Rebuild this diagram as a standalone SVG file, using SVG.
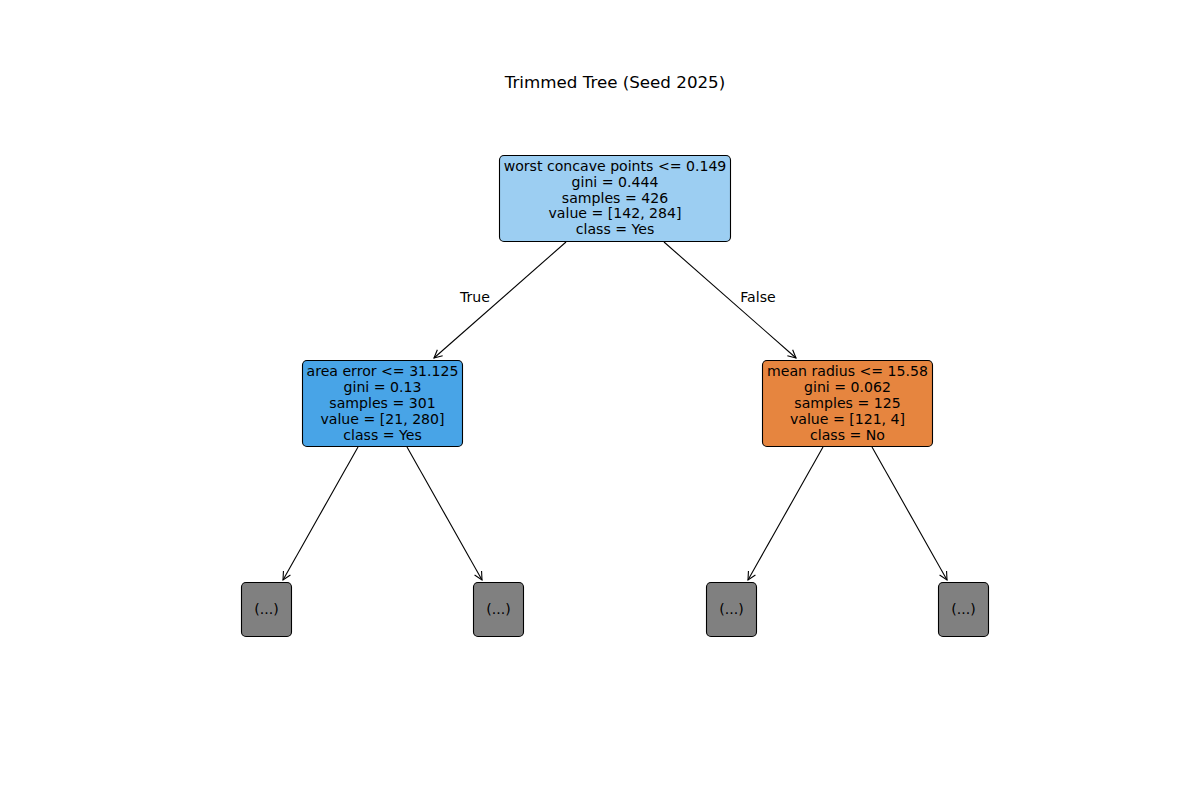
<svg xmlns="http://www.w3.org/2000/svg" width="1200" height="800" viewBox="0 0 1200 800">
<style>
text{font-family:"DejaVu Sans",sans-serif;fill:#000}
.t{font-size:14.1px;text-anchor:middle}
.title{font-size:16.7px;text-anchor:middle}
.box{stroke:#000;stroke-width:1.1}
.edge{stroke:#000;stroke-width:1.1;fill:none;marker-end:url(#ah)}
</style>
<defs>
<marker id="ah" markerWidth="12" markerHeight="12" refX="9" refY="6" orient="auto" markerUnits="userSpaceOnUse">
<path d="M1,2 L9,6 L1,10" fill="none" stroke="#000" stroke-width="1.1"/>
</marker>
</defs>
<rect width="1200" height="800" fill="#fff"/>
<text class="title" x="615" y="88">Trimmed Tree (Seed 2025)</text>
<g id="connectors">
<line class="edge" x1="566" y1="242" x2="434" y2="358"/>
<line class="edge" x1="664" y1="242" x2="796" y2="358"/>
<line class="edge" x1="358" y1="447" x2="283" y2="580"/>
<line class="edge" x1="407" y1="447" x2="482" y2="580"/>
<line class="edge" x1="823" y1="447" x2="748" y2="580"/>
<line class="edge" x1="872" y1="447" x2="947" y2="580"/>
<text class="t" x="475" y="301.5">True</text>
<text class="t" x="758" y="301.5">False</text>
</g>
<g id="root">
<rect class="box" x="499.5" y="155.5" width="231" height="86" rx="4.5" fill="#9ccef2"/>
<text class="t" x="615" y="170.7">worst concave points &lt;= 0.149</text>
<text class="t" x="615" y="186.6">gini = 0.444</text>
<text class="t" x="615" y="202.5">samples = 426</text>
<text class="t" x="615" y="218.4">value = [142, 284]</text>
<text class="t" x="615" y="234.3">class = Yes</text>
</g>
<g id="left">
<rect class="box" x="302.5" y="360.5" width="160" height="86" rx="4.5" fill="#48a4e7"/>
<text class="t" x="382.5" y="376">area error &lt;= 31.125</text>
<text class="t" x="382.5" y="391.9">gini = 0.13</text>
<text class="t" x="382.5" y="407.8">samples = 301</text>
<text class="t" x="382.5" y="423.7">value = [21, 280]</text>
<text class="t" x="382.5" y="439.6">class = Yes</text>
</g>
<g id="right">
<rect class="box" x="762.5" y="360.5" width="170" height="86" rx="4.5" fill="#e6853f"/>
<text class="t" x="847.5" y="376">mean radius &lt;= 15.58</text>
<text class="t" x="847.5" y="391.9">gini = 0.062</text>
<text class="t" x="847.5" y="407.8">samples = 125</text>
<text class="t" x="847.5" y="423.7">value = [121, 4]</text>
<text class="t" x="847.5" y="439.6">class = No</text>
</g>
<g id="leaf1">
<rect class="box" x="241.5" y="582.5" width="50" height="54" rx="4.5" fill="#808080"/>
<text class="t" x="266.5" y="613.7">(...)</text>
</g>
<g id="leaf2">
<rect class="box" x="473.5" y="582.5" width="50" height="54" rx="4.5" fill="#808080"/>
<text class="t" x="498.5" y="613.7">(...)</text>
</g>
<g id="leaf3">
<rect class="box" x="706.5" y="582.5" width="50" height="54" rx="4.5" fill="#808080"/>
<text class="t" x="731.5" y="613.7">(...)</text>
</g>
<g id="leaf4">
<rect class="box" x="938.5" y="582.5" width="50" height="54" rx="4.5" fill="#808080"/>
<text class="t" x="963.5" y="613.7">(...)</text>
</g>
</svg>
